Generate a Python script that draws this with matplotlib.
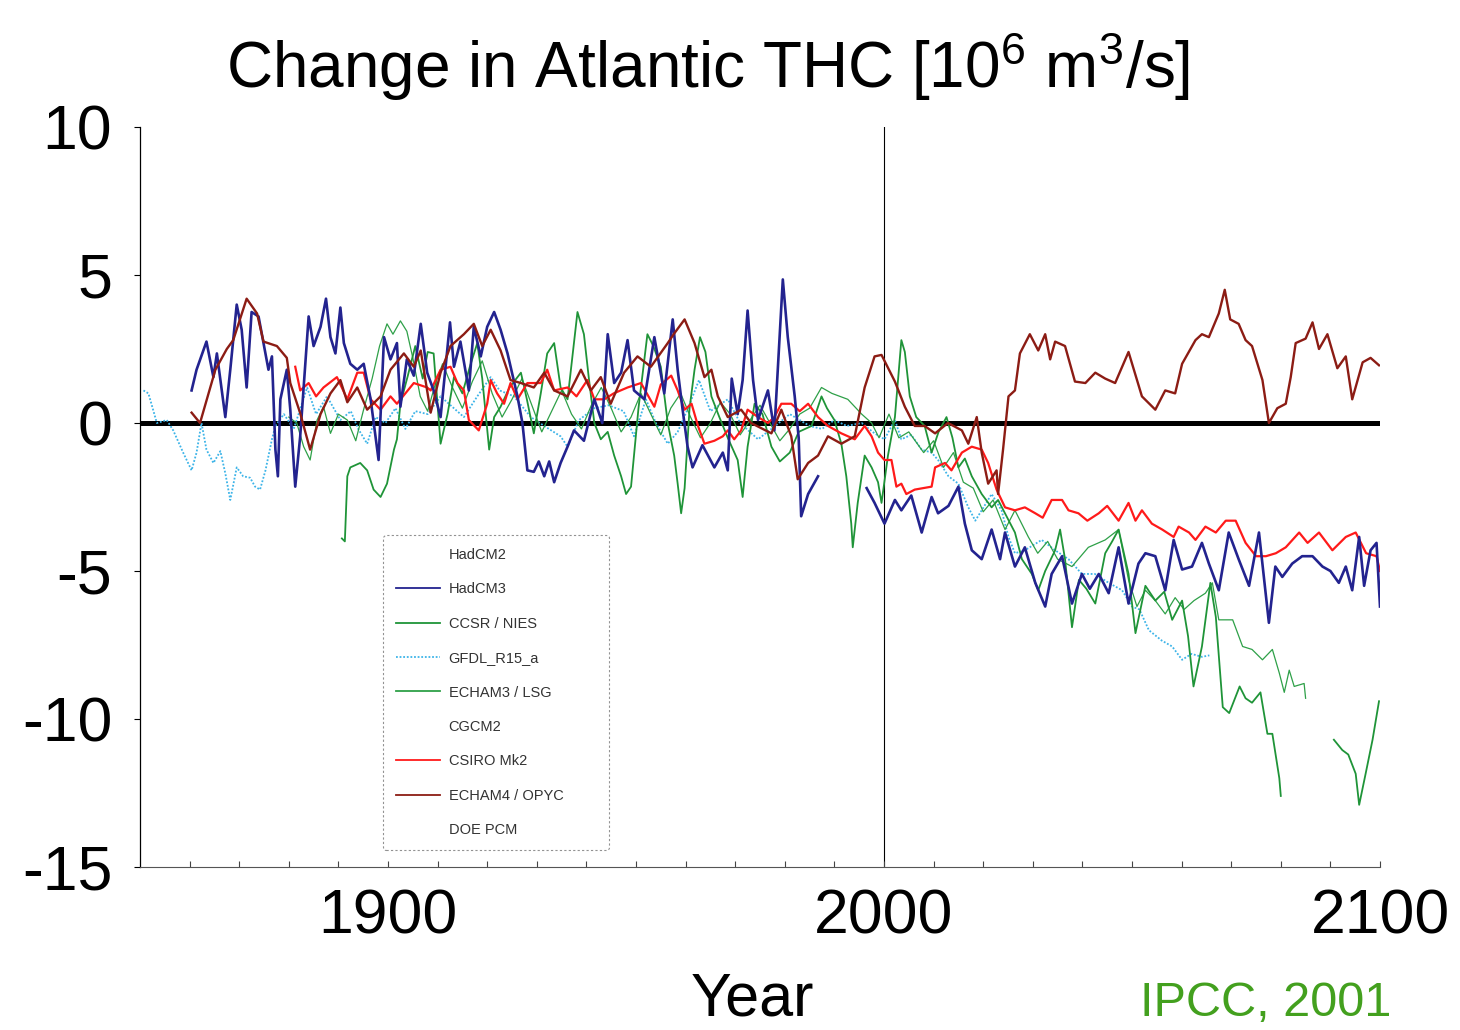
import numpy as np
import matplotlib
matplotlib.use("Agg")
import matplotlib.pyplot as plt
from matplotlib.lines import Line2D

plt.rcParams['font.family'] = ['Liberation Sans', 'DejaVu Sans']
plt.rcParams['mathtext.fontset'] = 'custom'
plt.rcParams['mathtext.rm'] = 'Liberation Sans'
plt.rcParams['mathtext.it'] = 'Liberation Sans'

# --- values (Sv, change in Atlantic THC) ------------------------------------

hadcm3_year = [1860.4, 1861.4, 1863.4, 1864.8, 1865.5, 1867.2, 1868.2, 1869.5, 1870.5, 1871.5,
               1872.5, 1873.9, 1874.9, 1875.9, 1876.6, 1877.3, 1877.8, 1878.3, 1879.6, 1880.3,
               1881.3, 1882.3, 1884.0, 1885.0, 1886.4, 1887.5, 1888.4, 1889.4, 1890.4, 1891.1,
               1892.4, 1893.8, 1895.1, 1896.5, 1898.1, 1899.2, 1900.5, 1901.8, 1902.5, 1903.8,
               1905.2, 1906.6, 1907.9, 1909.2, 1910.6, 1912.5, 1913.3, 1914.6, 1916.3, 1917.3,
               1918.7, 1920.0, 1921.4, 1922.7, 1924.1, 1926.1, 1927.1, 1928.1, 1929.4, 1930.4,
               1931.5, 1932.5, 1933.5, 1934.8, 1936.2, 1937.5, 1939.5, 1941.6, 1943.2, 1944.3,
               1945.6, 1947.0, 1948.3, 1949.6, 1951.7, 1953.7, 1955.7, 1957.4, 1958.4, 1959.4,
               1960.4, 1961.4, 1963.4, 1965.8, 1967.5, 1968.5, 1969.3, 1970.5, 1971.5, 1972.5,
               1973.6, 1974.6, 1976.6, 1977.9, 1979.6, 1980.6, 1982.0, 1982.8, 1983.3, 1984.7,
               1986.7, 1987.0, 1996.0, 1996.5, 1998.1, 2000.1, 2002.2, 2003.5,
               2005.5, 2007.6, 2009.6, 2010.9, 2013.0, 2015.0, 2016.3, 2017.7, 2019.7, 2021.7,
               2023.4, 2024.4, 2026.4, 2028.4, 2030.5, 2032.5, 2033.8, 2035.9, 2037.9, 2039.9,
               2041.5, 2043.3, 2045.3, 2047.3, 2049.3, 2051.3, 2052.7, 2054.7, 2056.7, 2058.4,
               2060.1, 2062.1, 2064.1, 2065.5, 2067.5, 2069.5, 2071.5, 2073.6, 2075.6, 2077.6,
               2078.9, 2080.3, 2082.3, 2084.3, 2086.4, 2088.4, 2090.0, 2091.7, 2093.1, 2094.4,
               2095.8, 2096.8, 2098.1, 2099.3, 2100.0]
hadcm3_thc = [1.1, 1.8, 2.75, 1.55, 2.35, 0.2, 1.8, 4.0, 3.15, 1.2,
              3.75, 3.6, 2.7, 1.8, 2.25, -0.9, -1.8, 0.8, 1.8, 0.45,
              -2.15, -0.45, 3.6, 2.6, 3.25, 4.2, 2.9, 2.35, 3.9, 2.7,
              2.0, 1.8, 2.0, 0.8, -1.25, 2.9, 2.15, 2.7, 0.55, 2.15,
              1.6, 3.35, 1.7, 1.1, 0.2, 3.4, 1.9, 2.75, 1.1, 3.25,
              2.25, 3.25, 3.75, 3.15, 2.35, 0.9, 0.0, -1.6, -1.65, -1.3,
              -1.8, -1.3, -2.0, -1.35, -0.8, -0.25, -0.6, 0.8, 0.0, 3.0,
              1.35, 1.7, 2.8, 1.1, 0.8, 2.9, 1.0, 3.5, 1.8, 0.45,
              -0.8, -1.5, -0.75, -1.5, -1.0, -1.6, 1.5, 0.3, 1.45, 3.8,
              1.45, 0.1, 1.1, -0.25, 4.85, 2.9, 0.9, -0.5, -3.15, -2.4,
              -1.8, np.nan, np.nan, -2.2, -2.7, -3.4, -2.6, -2.95,
              -2.45, -3.7, -2.5, -3.05, -2.8, -2.15, -3.4, -4.3, -4.6, -3.6,
              -4.6, -3.7, -4.85, -4.2, -5.4, -6.2, -5.1, -4.5, -6.1, -5.1,
              -5.6, -5.1, -5.75, -4.2, -6.1, -4.75, -4.4, -4.5, -5.65, -3.95,
              -4.95, -4.85, -4.05, -4.75, -5.65, -3.7, -4.6, -5.5, -3.7, -6.75,
              -4.85, -5.2, -4.75, -4.5, -4.5, -4.85, -5.0, -5.4, -4.85, -5.65,
              -3.85, -5.5, -4.3, -4.05, -6.2]

ccsr_year = [1890.7, 1891.3, 1891.8, 1892.4, 1894.4, 1895.8, 1897.1, 1898.5, 1899.8, 1901.2,
             1901.8, 1902.5, 1904.0, 1905.5, 1907.0, 1908.0, 1909.2, 1910.6, 1912.0, 1913.3,
             1915.0, 1916.5, 1918.0, 1919.0, 1920.4, 1921.4, 1922.7, 1924.5, 1926.8, 1928.0,
             1929.4, 1930.8, 1932.1, 1933.5, 1934.8, 1936.2, 1938.2, 1939.5, 1940.5, 1941.6,
             1942.9, 1944.3, 1945.6, 1947.0, 1948.0, 1949.0, 1950.5, 1952.3, 1953.5, 1955.0,
             1956.4, 1957.7, 1958.4, 1959.1, 1959.8, 1960.8, 1961.8, 1962.9, 1964.0, 1965.2,
             1966.8, 1968.5, 1970.5, 1971.5, 1972.5, 1973.9, 1975.5, 1977.3, 1979.0, 1981.0,
             1982.8, 1985.4, 1987.4, 1988.5, 1990.0, 1991.4, 1992.4, 1993.4, 1993.7, 1994.7,
             1996.1, 1997.5, 1998.8, 1999.5, 2000.8, 2002.2, 2003.5, 2004.2, 2005.2, 2006.5,
             2008.2, 2009.6, 2011.0, 2012.6, 2013.8, 2015.0, 2016.3, 2017.7, 2019.7, 2021.7,
             2023.0, 2024.4, 2026.4, 2027.8, 2029.8, 2031.1, 2032.5, 2034.5, 2035.5, 2036.5,
             2037.9, 2039.3, 2040.8, 2042.6, 2044.6, 2046.0, 2047.3, 2049.3, 2050.7, 2052.7,
             2054.7, 2056.5, 2058.1, 2060.1, 2061.3, 2062.4, 2064.1, 2065.8, 2066.9, 2068.3,
             2069.6, 2071.7, 2072.9, 2074.2, 2075.9, 2077.3, 2078.3, 2079.7, 2080.0, 2085.0,
             2090.7, 2092.4, 2093.6, 2095.1, 2095.8, 2097.1, 2098.5, 2099.8]
ccsr_thc = [-3.9, -4.0, -1.8, -1.5, -1.35, -1.6, -2.25, -2.5, -2.05, -0.9,
            -0.55, 0.65, 1.6, 2.6, 1.5, 2.4, 2.35, -0.7, 0.3, 1.55,
            1.0, 1.9, 2.7, 1.5, -0.9, 0.2, 0.55, 1.2, 1.7, 0.8,
            -0.35, 1.0, 2.35, 2.7, 1.2, 0.8, 3.75, 3.0, 1.5, 0.0,
            -0.55, -0.3, -1.1, -1.8, -2.4, -2.15, 0.5, 3.0, 2.6, 1.9,
            0.0, -1.1, -2.05, -3.05, -2.2, 0.5, 1.8, 2.9, 2.4, 0.9,
            0.2, -0.5, -1.25, -2.5, -0.8, 0.65, 0.3, -0.8, -1.3, -1.0,
            -0.3, -0.1, 0.9, 0.5, 0.1, -0.7, -1.8, -3.4, -4.2, -2.7,
            -1.1, -1.5, -2.0, -2.7, -1.1, 0.2, 2.8, 2.4, 0.9, 0.2,
            -0.1, -1.0, -0.3, 0.2, -0.5, -1.5, -1.2, -1.8, -2.4, -2.85,
            -2.6, -3.05, -3.7, -4.6, -5.1, -5.65, -5.0, -4.3, -3.6, -4.6,
            -6.9, -5.3, -5.6, -6.1, -4.4, -4.0, -3.6, -5.1, -7.1, -5.5,
            -6.0, -5.7, -6.65, -6.0, -7.2, -8.9, -7.55, -5.4, -6.55, -9.6,
            -9.8, -8.9, -9.3, -9.45, -9.1, -10.5, -10.5, -12.0, -12.6, np.nan,
            -10.7, -11.05, -11.2, -11.85, -12.9, -11.85, -10.7, -9.4]

gfdl_year = [1850.7, 1851.7, 1853.4, 1855.4, 1856.7, 1858.7, 1860.4, 1861.4, 1862.4, 1863.4,
             1864.8, 1866.2, 1867.2, 1868.2, 1869.5, 1870.8, 1872.2, 1873.2, 1874.2, 1875.3,
             1876.6, 1877.3, 1879.0, 1881.0, 1883.7, 1885.5, 1887.7, 1890.4, 1892.5, 1894.0,
             1895.8, 1897.5, 1899.5, 1901.5, 1903.5, 1905.5, 1908.0, 1910.6, 1912.6, 1915.3,
             1918.0, 1920.7, 1922.5, 1925.4, 1928.8, 1931.5, 1934.8, 1936.2, 1938.5, 1941.6,
             1944.5, 1947.5, 1949.6, 1952.0, 1954.0, 1956.4, 1958.4, 1960.5, 1962.7, 1965.0,
             1968.5, 1971.0, 1974.6, 1977.3, 1981.0, 1985.0, 1987.5, 1990.0, 1992.5, 1995.5,
             1998.1, 2000.1, 2002.2, 2003.5, 2005.5, 2007.6, 2009.6, 2010.9, 2013.0, 2015.0,
             2017.0, 2018.4, 2019.7, 2021.7, 2023.7, 2025.1, 2026.4, 2028.4, 2031.8, 2034.5,
             2037.2, 2039.9, 2042.5, 2045.3, 2048.0, 2050.0, 2051.5, 2053.4, 2056.0, 2058.1,
             2060.1, 2062.0, 2064.1, 2065.6]
gfdl_thc = [1.1, 1.0, 0.0, 0.1, -0.25, -1.0, -1.6, -1.0, 0.0, -0.9,
            -1.35, -0.95, -1.7, -2.6, -1.5, -1.8, -1.85, -2.15, -2.25, -1.6,
            -0.55, -0.1, 0.3, -0.2, 1.2, 0.3, 0.9, 0.1, 0.4, -0.2,
            -0.7, 0.2, 0.0, 0.5, -0.2, 0.4, 0.3, 0.9, 0.6, 0.2,
            0.9, 1.55, 1.1, 0.9, 0.2, -0.1, -0.45, -0.8, 0.1, 0.5,
            0.6, 0.4, -0.45, 0.8, 0.0, -0.7, -0.3, 0.5, 1.45, 0.4,
            0.8, 0.0, -0.55, -0.2, 0.3, -0.1, -0.2, 0.1, -0.1, 0.0,
            -0.35, -0.55, 0.1, -0.55, -0.4, -0.9, -1.0, -1.25, -1.8, -2.05,
            -2.85, -3.3, -2.95, -2.4, -2.95, -3.85, -4.4, -4.3, -3.95, -4.3,
            -4.6, -5.1, -5.1, -5.4, -5.65, -6.2, -6.3, -7.0, -7.35, -7.55,
            -8.0, -7.8, -7.9, -7.85]

echam3_year = [1880.0, 1881.6, 1883.0, 1884.3, 1885.7, 1887.0, 1888.4, 1890.0, 1891.8, 1893.5,
               1895.0, 1896.8, 1898.3, 1899.8, 1901.0, 1902.5, 1903.8, 1905.0, 1906.5, 1908.0,
               1909.5, 1911.0, 1913.0, 1915.0, 1917.0, 1919.0, 1921.0, 1923.0, 1925.0, 1927.0,
               1929.0, 1931.0, 1933.0, 1935.0, 1937.0, 1939.0, 1941.0, 1943.0, 1945.0, 1947.0,
               1949.0, 1951.0, 1953.0, 1955.0, 1957.0, 1959.0, 1961.0, 1963.0, 1965.0, 1967.0,
               1969.0, 1971.0, 1973.0, 1975.0, 1977.0, 1979.0, 1981.0, 1983.0, 1985.0, 1987.4,
               1989.5, 1992.7, 1995.5, 1997.5, 1999.0, 2001.0, 2003.0, 2005.0, 2008.0, 2010.0,
               2012.0, 2014.0, 2016.0, 2018.0, 2020.0, 2022.0, 2024.4, 2026.4, 2029.1, 2031.0,
               2033.0, 2035.0, 2037.9, 2041.2, 2044.6, 2047.3, 2049.3, 2051.0, 2052.7, 2054.7,
               2056.7, 2058.7, 2060.5, 2062.5, 2064.8, 2066.2, 2067.5, 2070.3, 2072.3, 2074.2,
               2076.3, 2078.3, 2079.7, 2080.7, 2081.7, 2082.7, 2084.7, 2085.0]
echam3_thc = [0.2, 0.0, -0.8, -1.25, 0.1, 0.55, -0.35, 0.3, 0.1, -0.6,
              0.4, 1.5, 2.6, 3.35, 3.0, 3.45, 3.1, 2.2, 0.9, 0.4,
              1.3, 2.0, 1.2, 0.5, 1.4, 2.1, 1.0, 0.2, 0.8, 1.5,
              0.6, -0.3, 0.4, 1.1, 0.3, -0.2, 0.6, 1.2, 0.5, -0.3,
              0.2, 1.0, 0.3, -0.4, 0.5, 1.0, 0.2, -0.5, 0.0, 0.7,
              0.3, -0.4, 0.1, 0.6, 0.0, -0.6, -0.2, 0.3, 0.5, 1.2,
              1.0, 0.8, 0.3, 0.0, -0.5, 0.3, -0.5, -0.3, -1.0, -0.6,
              -1.5, -1.0, -2.0, -2.2, -3.0, -2.6, -3.6, -2.95, -3.85, -4.4,
              -4.0, -4.6, -4.85, -4.2, -3.95, -3.6, -5.3, -6.2, -5.65, -6.0,
              -6.45, -5.9, -6.3, -6.0, -5.75, -5.4, -6.65, -6.65, -7.55, -7.65,
              -8.0, -7.65, -8.45, -9.1, -8.35, -8.9, -8.8, -9.3]

csiro_year = [1881.3, 1882.3, 1884.0, 1885.5, 1887.0, 1889.7, 1891.8, 1893.8, 1895.1, 1896.5,
              1898.5, 1900.5, 1901.8, 1903.5, 1905.2, 1907.9, 1908.6, 1910.6, 1912.6, 1914.0,
              1915.3, 1916.3, 1918.3, 1920.0, 1920.7, 1922.0, 1923.4, 1924.7, 1926.1, 1928.1,
              1930.8, 1932.1, 1933.5, 1936.2, 1938.0, 1940.2, 1941.6, 1943.6, 1945.5, 1948.3,
              1951.0, 1953.7, 1955.0, 1957.1, 1958.4, 1959.8, 1961.2, 1962.5, 1963.8, 1965.8,
              1967.5, 1968.5, 1969.8, 1971.2, 1972.5, 1974.6, 1976.6, 1977.9, 1979.3, 1981.3,
              1983.0, 1984.7, 1986.7, 1988.7, 1991.4, 1994.1, 1996.1, 1997.5, 1998.8, 2000.1,
              2001.5, 2002.5, 2003.5, 2004.5, 2006.2, 2009.6, 2010.3, 2012.3, 2013.6, 2015.7,
              2017.7, 2019.7, 2021.0, 2022.7, 2024.4, 2026.4, 2028.4, 2030.5, 2032.0, 2033.8,
              2035.9, 2037.2, 2039.2, 2041.0, 2043.3, 2045.0, 2047.3, 2049.3, 2050.7, 2052.0,
              2054.0, 2056.1, 2058.4, 2059.4, 2061.5, 2062.8, 2064.8, 2066.9, 2068.9, 2070.9,
              2072.9, 2075.0, 2077.0, 2079.0, 2081.0, 2083.7, 2085.4, 2087.7, 2090.4, 2093.1,
              2095.1, 2097.2, 2099.3, 2100.0]
csiro_thc = [1.9, 1.1, 1.35, 0.9, 1.2, 1.55, 0.8, 1.7, 1.7, 0.8,
             0.45, 0.9, 0.65, 1.0, 1.35, 1.2, 1.1, 1.8, 1.9, 1.35,
             1.1, 0.1, -0.25, 0.65, 1.45, 1.0, 0.65, 1.35, 0.8, 1.35,
             1.35, 1.8, 1.1, 1.2, 0.9, 1.45, 0.8, 0.8, 1.0, 1.2,
             1.35, 0.55, 1.3, 1.6, 1.1, 0.45, 0.65, -0.1, -0.7, -0.6,
             -0.45, -0.25, -0.55, -0.25, 0.45, 0.2, 0.0, 0.2, 0.65, 0.65,
             0.4, 0.65, 0.2, -0.1, -0.35, -0.55, -0.1, -0.45, -1.0, -1.25,
             -1.25, -2.15, -2.05, -2.4, -2.25, -2.15, -1.5, -1.35, -1.6, -1.0,
             -0.8, -0.9, -1.35, -2.25, -2.85, -2.95, -2.85, -3.05, -3.2, -2.6,
             -2.6, -2.95, -3.05, -3.3, -3.05, -2.8, -3.3, -2.7, -3.3, -2.95,
             -3.4, -3.6, -3.85, -3.5, -3.7, -3.95, -3.5, -3.7, -3.3, -3.3,
             -4.05, -4.5, -4.5, -4.4, -4.2, -3.7, -4.05, -3.7, -4.3, -3.85,
             -3.7, -4.4, -4.5, -5.0]

echam4_year = [1860.4, 1862.1, 1865.2, 1867.5, 1868.8, 1871.5, 1873.6, 1874.9, 1877.6, 1879.6,
               1880.3, 1882.3, 1884.3, 1886.4, 1888.4, 1890.4, 1891.8, 1893.8, 1895.8, 1898.5,
               1900.5, 1903.2, 1905.2, 1906.6, 1908.6, 1910.6, 1912.6, 1915.3, 1917.3, 1919.0,
               1920.7, 1922.7, 1924.7, 1926.8, 1929.4, 1931.5, 1933.5, 1936.2, 1938.9, 1940.9,
               1942.9, 1944.9, 1947.6, 1950.3, 1953.0, 1956.4, 1957.6, 1959.8, 1961.8, 1963.8,
               1965.2, 1966.5, 1968.5, 1971.2, 1973.2, 1977.3, 1979.3, 1981.3, 1982.6, 1984.7,
               1986.7, 1988.7, 1991.4, 1994.1, 1996.1, 1998.1, 1999.5, 2002.2, 2004.2, 2006.2,
               2008.2, 2010.3, 2012.9, 2015.7, 2017.0, 2018.7, 2019.7, 2021.0, 2022.7, 2023.0,
               2024.0, 2025.1, 2026.4, 2027.4, 2029.4, 2031.1, 2032.5, 2033.5, 2034.5, 2036.5,
               2038.5, 2040.6, 2042.6, 2044.6, 2046.6, 2049.3, 2052.0, 2054.7, 2056.7, 2058.7,
               2060.1, 2062.8, 2064.1, 2065.5, 2067.5, 2068.7, 2069.8, 2071.5, 2072.9, 2074.2,
               2076.3, 2077.6, 2079.3, 2081.0, 2082.0, 2083.0, 2085.0, 2086.4, 2087.7, 2089.4,
               2091.4, 2093.1, 2094.4, 2096.5, 2098.1, 2099.8]
echam4_thc = [0.35, 0.0, 1.8, 2.5, 2.8, 4.2, 3.7, 2.75, 2.6, 2.2,
              1.35, 0.33, -0.9, 0.3, 1.0, 1.45, 0.7, 1.2, 0.45, 0.9,
              1.8, 2.35, 1.9, 2.45, 0.35, 1.7, 2.6, 3.0, 3.35, 2.6,
              3.15, 2.45, 1.45, 1.35, 1.2, 1.7, 1.1, 0.9, 1.8, 1.1,
              1.55, 0.65, 1.7, 2.25, 1.9, 2.7, 3.0, 3.5, 2.7, 1.55,
              1.8, 0.9, 0.2, 0.45, 0.0, -0.35, 0.45, -0.45, -1.9, -1.35,
              -1.1, -0.45, -0.7, -0.45, 1.2, 2.25, 2.3, 1.4, 0.55, -0.1,
              -0.1, -0.35, 0.0, -0.25, -0.7, 0.2, -1.0, -2.05, -1.6, -2.4,
              -0.9, 0.9, 1.1, 2.35, 3.0, 2.45, 3.0, 2.15, 2.75, 2.6,
              1.4, 1.35, 1.7, 1.5, 1.35, 2.4, 0.9, 0.45, 1.1, 1.0,
              2.0, 2.8, 3.0, 2.9, 3.7, 4.5, 3.5, 3.35, 2.8, 2.6,
              1.45, 0.0, 0.5, 0.65, 1.55, 2.7, 2.85, 3.4, 2.5, 3.0,
              1.85, 2.25, 0.8, 2.05, 2.2, 1.95]

model_names = ["HadCM2", "HadCM3", "CCSR / NIES", "GFDL_R15_a", "ECHAM3 / LSG",
               "CGCM2", "CSIRO Mk2", "ECHAM4 / OPYC", "DOE PCM"]
y_ticks = [10, 5, 0, -5, -10, -15]
x_ticks = [1900, 2000, 2100]

# --- figure -----------------------------------------------------------------

fig = plt.figure(figsize=(14.6, 10.3), dpi=100, facecolor="white")
ax = fig.add_axes([140 / 1460, 163 / 1030, 1240 / 1460, 740 / 1030])

ax.axhline(0, color="black", lw=3.6, zorder=1)
ax.axvline(2000, color="black", lw=0.8, zorder=1)

styles = {
    "HadCM3": dict(color="#23238f", lw=1.9, zorder=4),
    "CCSR / NIES": dict(color="#1f9438", lw=1.3, zorder=3),
    "GFDL_R15_a": dict(color="#3db4e8", lw=1.3, ls=(0, (1, 1)), zorder=2),
    "ECHAM3 / LSG": dict(color="#2ea048", lw=0.9, zorder=2),
    "CSIRO Mk2": dict(color="#ff1a1a", lw=1.6, zorder=3),
    "ECHAM4 / OPYC": dict(color="#8c1c14", lw=1.7, zorder=5),
}
series = {
    "HadCM3": (hadcm3_year, hadcm3_thc),
    "CCSR / NIES": (ccsr_year, ccsr_thc),
    "GFDL_R15_a": (gfdl_year, gfdl_thc),
    "ECHAM3 / LSG": (echam3_year, echam3_thc),
    "CSIRO Mk2": (csiro_year, csiro_thc),
    "ECHAM4 / OPYC": (echam4_year, echam4_thc),
}
for name, (yr, val) in series.items():
    ax.plot(yr, val, **styles[name])

ax.set_xlim(1850, 2100)
ax.set_ylim(-15, 10)
ax.set_yticks(y_ticks)
ax.set_yticklabels([str(v) for v in y_ticks])
ax.set_xticks(x_ticks)
ax.set_xticks(np.arange(1860, 2101, 10), minor=True)

for s in ("top", "right"):
    ax.spines[s].set_visible(False)
ax.spines["left"].set_linewidth(0.9)
ax.spines["bottom"].set_linestyle((0, (1, 1)))
ax.spines["bottom"].set_color("#555555")
ax.spines["bottom"].set_linewidth(0.8)

ax.tick_params(axis="y", direction="out", length=4, width=0.8, labelsize=45, pad=16)
ax.tick_params(axis="x", which="both", direction="in", length=4, width=0.8,
               color="#444444", labelsize=45, pad=15)

# legend: three models have no visible curve in the original
handles = []
for name in model_names:
    if name in styles:
        st = styles[name]
        handles.append(Line2D([], [], color=st["color"], lw=1.3, ls=st.get("ls", "-")))
    else:
        handles.append(Line2D([], [], color="none"))
leg = ax.legend(handles, model_names, loc="upper left",
                bbox_to_anchor=(0.196, 0.449, 0.182, 0.0), mode="expand",
                borderaxespad=0.0, fontsize=10.5, labelspacing=1.4,
                handlelength=3.0, handletextpad=0.6, borderpad=0.9,
                frameon=True, fancybox=True, labelcolor="#333333")
fr = leg.get_frame()
fr.set_linestyle((0, (2, 2)))
fr.set_edgecolor("#777777")
fr.set_linewidth(0.8)

fig.text(708 / 1460, 1 - 88 / 1030,
         r"Change in Atlantic THC [10$^{6}$ m$^{3}$/s]",
         ha="center", va="baseline", fontsize=46)
fig.text(752 / 1460, 1 - 1016 / 1030, "Year", ha="center", va="baseline", fontsize=44)
fig.text(1140 / 1460, 1 - 1016 / 1030, "IPCC, 2001", ha="left", va="baseline",
         fontsize=35, color="#43a01e")

fig.savefig("out.png", dpi=100, facecolor="white")
